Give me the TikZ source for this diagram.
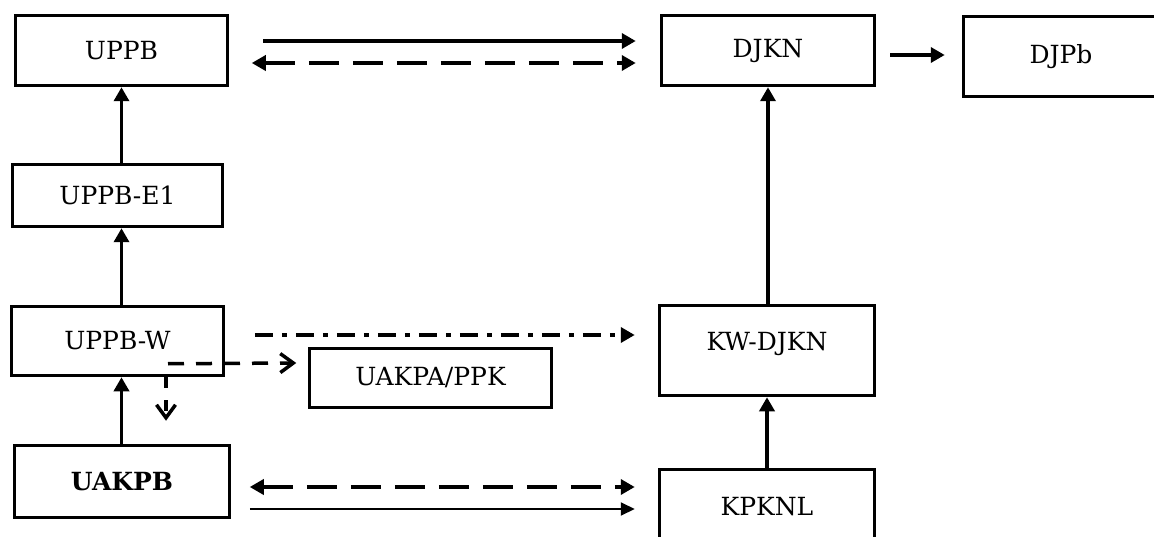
\documentclass[tikz,border=0pt]{standalone}
\usepackage{fontspec}
\setmainfont{DejaVu Serif}
\usetikzlibrary{arrows.meta,calc}
\begin{document}
\begin{tikzpicture}[x=1pt,y=-1pt,
  box/.style={draw,line width=3.5pt,inner sep=0pt,font=\fontsize{25}{28}\selectfont},
  arr/.style={line width=3.5pt,-{Triangle[length=14pt,width=15pt]}},
  biarr/.style={line width=3.5pt,{Triangle[length=14pt,width=15pt]}-{Triangle[length=14pt,width=15pt]}},
  longdash/.style={dash pattern=on 30pt off 14pt},
  dashdotpat/.style={dash pattern=on 18pt off 9pt on 5pt off 9pt},
  shortdash/.style={dash pattern=on 16pt off 12pt},
  openarr/.style={line width=3.5pt,-{Straight Barb[length=13pt,width=19pt,line width=3.5pt]}}
]
\useasboundingbox (0,0) rectangle (1154,537);
\begin{scope}
\clip (0,0) rectangle (1154,537);
% boxes
\node[box,minimum width=212pt,minimum height=70pt] (uppb) at (121.5,50.5) {UPPB};
\node[box,minimum width=213pt,minimum height=70pt] (djkn) at (768,50.5) {DJKN};
\node[box,minimum width=195pt,minimum height=80pt] (djpb) at (1061,56.5) {DJPb};
\node[box,minimum width=210pt,minimum height=62pt] (e1) at (117.5,195.5) {UPPB-E1};
\node[box,minimum width=212pt,minimum height=69pt] (w) at (117.5,341) {UPPB-W};
\node[box,minimum width=242pt,minimum height=59pt] (uakpa) at (430.5,378) {UAKPA/PPK};
\node[box,minimum width=215pt,minimum height=90pt,text height=18pt,text depth=17pt] (kw) at (767,350.5) {KW-DJKN};
\node[box,minimum width=215pt,minimum height=72pt,font=\fontsize{25}{28}\selectfont\bfseries] (uakpb) at (122,481.5) {UAKPB};
\node[box,minimum width=215pt,minimum height=74pt] (kpknl) at (767,506.5) {KPKNL};

% connectors
\draw[arr] ($(uppb.east)+(34,-9.5)$) -- ($(djkn.west)+(-24,-9.5)$);
\draw[biarr,longdash] ($(uppb.east)+(22.5,12.5)$) -- ($(djkn.west)+(-24,12.5)$);
\draw[arr] ($(djkn.east)+(14,4.5)$) -- ($(djpb.west)+(-17,-1.5)$);
\draw[arr] (e1.north -| uppb.south) -- (uppb.south);
\draw[arr] (w.north -| uppb.south) -- (e1.south -| uppb.south);
\draw[arr] (uakpb.north -| uppb.south) -- (w.south -| uppb.south);
\draw[arr,dashdotpat] ($(w.east)+(29.5,-6)$) -- ($(kw.west)+(-23,-15.5)$);
\coordinate (split) at ($(w.south)+(50.5,-13.5)$);
\coordinate (downend) at ($(w.south)+(48.5,43.5)$);
\draw[openarr,shortdash] (split) -- ($(uakpa.west)+(-11.5,-15)$);
\draw[openarr,dash pattern=on 11pt off 12pt] ($(w.south)+(48.5,0)$) -- (downend);
\draw[arr] (kpknl.north) -- (kw.south);
\draw[arr] (kw.north -| djkn.south) -- (djkn.south);
\draw[biarr,longdash] ($(uakpb.east)+(18.5,5.5)$) -- ($(kpknl.west)+(-23,-19.5)$);
\draw[line width=2pt,-{Triangle[length=14pt,width=13pt]}] ($(uakpb.east)+(18.5,27.5)$) -- ($(kpknl.west)+(-23,2.5)$);
\end{scope}
\end{tikzpicture}
\end{document}
